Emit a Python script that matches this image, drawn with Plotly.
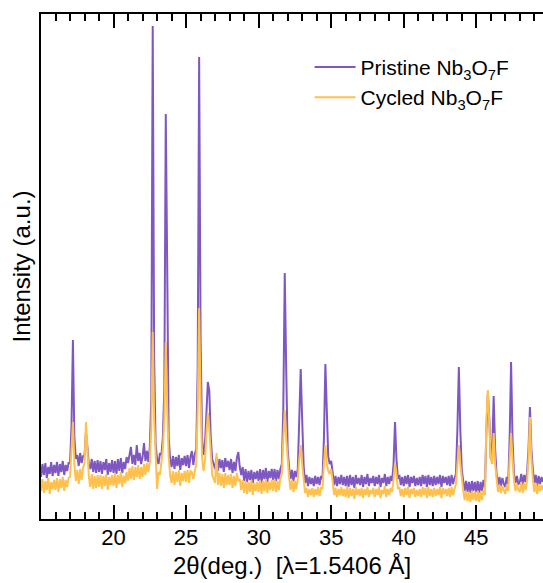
import numpy as np
import plotly.graph_objects as go

# 2-theta grid (deg), 0.1 deg steps from 15.0 to 49.6
two_theta = np.round(np.arange(150, 497) / 10.0, 1)

# Pristine Nb3O7F intensity (a.u.), blocks of 1 degree
pristine = [
    42, 55, 44, 56, 41, 52, 45, 57, 43, 54,          # 15
    46, 57, 43, 55, 47, 58, 44, 54, 48, 56,          # 16
    56, 92, 179, 82, 60, 64, 53, 66, 56, 63,         # 17
    64, 87, 72, 54, 50, 60, 47, 58, 46, 59,          # 18
    47, 58, 45, 57, 49, 60, 44, 56, 47, 59,          # 19
    46, 58, 45, 60, 48, 61, 46, 57, 50, 62,          # 20
    56, 66, 72, 55, 64, 54, 74, 58, 66, 55,          # 21
    62, 76, 58, 68, 57, 72, 120, 493, 160, 75,       # 22
    60, 55, 66, 64, 82, 130, 405, 250, 82, 60,       # 23
    52, 63, 50, 62, 53, 64, 49, 61, 54, 63,          # 24
    53, 64, 51, 62, 68, 54, 65, 70, 150, 462,        # 25
    180, 82, 64, 74, 110, 137, 128, 82, 60, 56,      # 26
    50, 62, 48, 60, 51, 59, 47, 61, 52, 58,          # 27
    49, 60, 46, 57, 48, 61, 67, 52, 44, 52,          # 28
    38, 50, 37, 48, 39, 49, 36, 47, 40, 48,          # 29
    38, 50, 36, 49, 40, 51, 37, 48, 41, 50,          # 30
    39, 50, 38, 49, 40, 50, 55, 110, 246, 150,       # 31
    70, 52, 40, 49, 38, 48, 42, 50, 90, 150,         # 32
    100, 54, 36, 44, 33, 42, 35, 41, 33, 43,         # 33
    35, 42, 34, 43, 40, 80, 155, 100, 62, 55,        # 34
    58, 47, 34, 43, 33, 42, 35, 44, 34, 42,          # 35
    33, 43, 32, 44, 34, 42, 31, 44, 35, 41,          # 36
    34, 44, 32, 42, 35, 45, 33, 41, 36, 43,          # 37
    33, 42, 35, 44, 32, 41, 36, 45, 33, 42,          # 38
    35, 43, 38, 55, 97, 60, 40, 44, 34, 42,          # 39
    33, 43, 35, 44, 32, 42, 36, 43, 33, 41,          # 40
    34, 42, 33, 44, 35, 43, 32, 44, 34, 42,          # 41
    33, 43, 34, 42, 35, 44, 32, 43, 36, 42,          # 42
    34, 43, 33, 44, 35, 41, 45, 90, 152, 90,         # 43
    50, 38, 28, 38, 27, 37, 26, 38, 28, 37,          # 44
    27, 38, 26, 37, 28, 39, 32, 90, 126, 100,        # 45
    60, 70, 123, 70, 45, 34, 42, 33, 41, 35,         # 46
    32, 42, 35, 80, 157, 80, 45, 36, 43, 35,         # 47
    36, 45, 34, 44, 37, 46, 70, 112, 70, 50,         # 48
    36, 44, 33, 43, 35, 42, 37,                      # 49
]

# Cycled Nb3O7F intensity (a.u.)
cycled = [
    28, 40, 26, 38, 29, 41, 25, 37, 30, 39,          # 15
    29, 41, 27, 40, 31, 42, 28, 39, 32, 41,          # 16
    42, 72, 97, 55, 38, 49, 35, 50, 39, 51,          # 17
    56, 97, 66, 42, 32, 45, 30, 43, 31, 44,          # 18
    32, 44, 30, 43, 33, 45, 29, 42, 34, 44,          # 19
    33, 46, 31, 44, 35, 47, 32, 43, 36, 47,          # 20
    38, 51, 40, 53, 39, 52, 42, 54, 40, 52,          # 21
    42, 55, 44, 56, 47, 57, 90, 187, 100, 58,        # 22
    30, 47, 44, 57, 70, 100, 177, 110, 62, 44,       # 23
    36, 48, 34, 47, 37, 49, 33, 46, 38, 48,          # 24
    37, 49, 36, 48, 47, 40, 50, 55, 110, 211,        # 25
    120, 62, 48, 58, 85, 106, 90, 66, 44, 40,        # 26
    36, 66, 34, 46, 33, 45, 31, 46, 34, 44,          # 27
    34, 45, 31, 43, 33, 46, 38, 40, 29, 39,          # 28
    26, 38, 25, 37, 27, 39, 24, 36, 28, 37,          # 29
    27, 39, 25, 38, 28, 40, 26, 37, 29, 39,          # 30
    28, 40, 27, 38, 29, 41, 45, 80, 109, 80,         # 31
    55, 42, 29, 39, 27, 38, 30, 40, 60, 74,          # 32
    55, 42, 26, 31, 22, 30, 24, 31, 22, 30,          # 33
    24, 32, 23, 31, 30, 55, 74, 55, 48, 45,          # 34
    50, 38, 24, 31, 22, 30, 24, 32, 23, 30,          # 35
    22, 32, 21, 31, 23, 30, 20, 32, 24, 30,          # 36
    23, 31, 21, 30, 24, 32, 22, 29, 25, 31,          # 37
    22, 30, 24, 32, 21, 29, 25, 33, 22, 30,          # 38
    24, 31, 27, 40, 56, 45, 30, 32, 23, 30,          # 39
    22, 31, 24, 32, 21, 30, 25, 31, 22, 29,          # 40
    23, 30, 22, 32, 24, 31, 21, 32, 23, 30,          # 41
    22, 31, 23, 30, 24, 32, 21, 31, 25, 30,          # 42
    23, 31, 22, 32, 24, 30, 35, 55, 74, 55,          # 43
    40, 29, 19, 28, 18, 27, 17, 28, 19, 27,          # 44
    18, 28, 17, 27, 19, 29, 24, 100, 129, 100,       # 45
    60, 55, 86, 55, 38, 27, 34, 26, 33, 28,          # 46
    25, 34, 28, 60, 86, 60, 38, 28, 35, 29,          # 47
    27, 37, 26, 36, 29, 38, 60, 102, 60, 40,         # 48
    27, 36, 25, 35, 28, 34, 29,                      # 49
]

x_ticks = [20, 25, 30, 35, 40, 45]
x_range = [15, 49.6]

PURPLE = "#7E57C2"
ORANGE = "#FFC04D"
FONT = "Liberation Sans, Arial, sans-serif"

fig = go.Figure()
fig.add_trace(go.Scatter(x=two_theta, y=pristine, mode="lines",
                         line=dict(color=PURPLE, width=2),
                         name="Pristine Nb<sub>3</sub>O<sub>7</sub>F"))
fig.add_trace(go.Scatter(x=two_theta, y=cycled, mode="lines", xaxis="x2",
                         line=dict(color=ORANGE, width=2),
                         name="Cycled Nb<sub>3</sub>O<sub>7</sub>F"))

fig.update_layout(
    width=543, height=583,
    margin=dict(l=41, r=0, t=14, b=64),
    paper_bgcolor="white", plot_bgcolor="white",
    font=dict(family=FONT, size=20, color="black"),
    showlegend=True,
    legend=dict(x=0.535, y=0.935, xanchor="left", yanchor="top",
                bgcolor="rgba(0,0,0,0)", font=dict(size=21),
                tracegroupgap=0, itemwidth=41),
    # main x axis: frame line + inward ticks (bottom and mirrored top)
    xaxis=dict(
        range=x_range, showline=True, linecolor="black", linewidth=2,
        mirror="ticks", ticks="inside", ticklen=14, tickwidth=1.5, tickcolor="black",
        tickvals=x_ticks, showticklabels=False, showgrid=False, zeroline=False,
        minor=dict(dtick=1, ticks="inside", ticklen=7, tickwidth=1.5,
                   tickcolor="black", showgrid=False),
    ),
    # same-range x axis carrying tick labels and title
    xaxis2=dict(
        range=x_range, overlaying="x", anchor="y", side="bottom",
        showline=False, ticks="", tickvals=x_ticks, showgrid=False, zeroline=False,
        tickfont=dict(size=22), ticklabelstandoff=3,
        title=dict(text="2θ(deg.)  [λ=1.5406 Å]", font=dict(size=24), standoff=8),
    ),
    yaxis=dict(
        range=[0, 505], showline=True, linecolor="black", linewidth=2,
        mirror=False, ticks="", showticklabels=False, showgrid=False, zeroline=False,
        title=dict(text="Intensity (a.u.)", font=dict(size=24), standoff=2),
    ),
)

fig.write_html("out.html")
